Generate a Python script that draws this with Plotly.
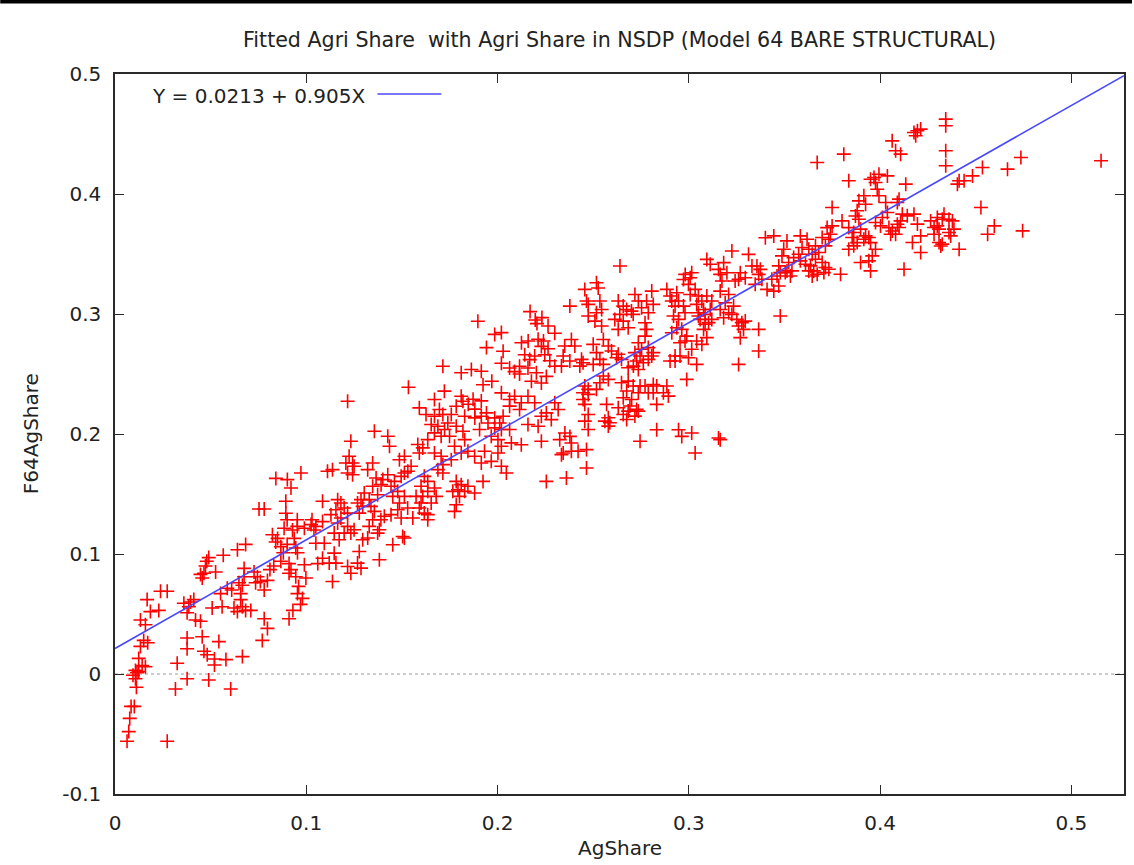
import plotly.graph_objects as go

obs_low = [
    (.0063,-.056),(.0072,-.048),(.0077,-.037),(.0084,-.027),(.0101,-.027),(.0273,-.056),(.0112,-.011),
    (.0107,-.004),(.0094,-.001),(.0115,.001),(.0107,.003),(.0124,.002),(.0142,.007),(.0124,.013),
    (.0159,.006),(.0133,.023),(.0171,.026),(.0150,.028),(.0133,.045),(.0159,.041),(.0168,.062),
    (.0185,.052),(.0229,.053),(.0238,.069),(.0273,.069),(.0325,.009),(.0316,-.0125),(.0377,.030),
    (.0377,.021),(.0377,-.004),(.036,.059),(.0395,.060),(.0412,.062),(.0386,.056),(.0377,.051),
    (.0421,.045),(.0447,.044),(.0456,.031),(.0465,.019),(.0482,.016),(.052,.0125),(.052,.0075),
    (.058,.012),(.049,-.005),(.0605,-.0125),(.0543,.027),(.0666,.0145),(.0447,.083),(.0465,.084),
    (.0456,.080),(.048,.094),(.049,.097),(.0473,.090),(.0526,.085),(.0566,.099),(.0508,.055),
    (.056,.056),(.0552,.067),(.0587,.0715),(.061,.070),(.0622,.055),(.064,.052),(.0666,.056),
    (.0683,.053),(.071,.053),(.0657,.062),(.0657,.067),(.0666,.074),(.0648,.076),(.0675,.081),
    (.0675,.088),(.064,.1035),(.0683,.108),(.0727,.085),(.0745,.081),(.076,.077),(.078,.070),
    (.0735,.076),(.0797,.078),(.081,.087),(.083,.090),(.0867,.094),(.088,.101),(.0867,.106),
    (.090,.108),(.084,.110),(.078,.046),(.0797,.038),(.077,.028),(.091,.046),(.093,.053),
    (.097,.058),(.098,.063),(.0954,.067),(.096,.073),(.0998,.080),(.0945,.081),(.091,.084),
    (.092,.087),(.091,.092),(.0954,.101),(.0945,.105),(.099,.091),(.106,.092),(.1085,.0965),
    (.105,.109),(.1094,.109),
    (.0841,.163),(.0901,.162),(.092,.155),(.0972,.1675),(.0753,.1375),(.078,.1375),(.0893,.144),
    (.0893,.134),(.090,.1285),(.0953,.1285),(.0884,.1215),(.0928,.120),(.0953,.123),(.099,.1215),
    (.1025,.1245),(.105,.123),(.104,.120),(.1085,.144),(.103,.1285),(.1085,.127),(.0823,.116),
    (.085,.113),(.0937,.113),
]

obs_mid = [
    (.1897,.294),(.1985,.283),(.202,.2845),(.1942,.272),(.2029,.269),(.202,.259),
    (.217,.302),(.2197,.295),(.2232,.297),(.2206,.292),(.2264,.290),(.2299,.284),
    (.2125,.276),(.216,.2775),(.2212,.279),(.224,.2775),(.2264,.271),(.2229,.273),
    (.2142,.266),(.2168,.262),(.2194,.265),(.2247,.266),(.2273,.261),(.2299,.2565),
    (.2063,.255),(.2089,.252),(.2115,.2565),(.2159,.255),(.2203,.251),(.2255,.248),(.2229,.2425),
    (.2177,.244),(.2115,.250),(.181,.251),(.1863,.2537),(.1915,.2523),(.197,.244),(.1924,.241),
    (.1714,.2565),(.1534,.239),(.1216,.2273),(.1591,.2218),(.1626,.2162),(.167,.2287),(.1696,.2204),
    (.1722,.2357),(.167,.2148),(.1714,.2162),(.1758,.2162),(.1784,.2231),(.181,.2315),(.1819,.2273),
    (.1653,.2079),(.1688,.2065),(.1723,.2037),(.174,.2092),(.167,.2009),(.1705,.1981),(.1749,.1981),
    (.1784,.2065),(.1847,.2248),(.1872,.229),(.1881,.2207),(.1915,.2276),(.1942,.2176),(.1915,.2148),
    (.1881,.2134),(.1828,.2148),(.202,.2343),(.2063,.2287),(.2089,.2315),(.2124,.226),(.2115,.2204),
    (.2063,.2232),(.2029,.2148),(.1985,.2134),(.2011,.2092),(.2159,.2315),(.2194,.226),(.2229,.2148),
    (.2255,.2176),(.2281,.212),(.2299,.226),(.2317,.2204),(.1906,.2037),(.195,.2092),(.1985,.2051),
    (.202,.2037),(.1967,.1981),(.2002,.1953),(.2063,.2037),(.2159,.2079),(.2212,.2065),(.2229,.194),
    (.2124,.191),(.2072,.1926),(.202,.1898),(.2002,.1842),(.1819,.2023),(.1828,.1953),(.1775,.1898),
    (.181,.1842),(.1845,.1856),(.188,.1814),(.1932,.1856),(.1583,.1912),(.1609,.1884),(.1635,.1953),
    (.167,.1842),(.1705,.1814),(.1591,.1842),(.1714,.1745),(.1688,.1703),(.1758,.1786),(.1714,.1675),
    (.1915,.1758),(.1967,.1772),(.202,.1731),(.1924,.1605),(.2046,.1675),(.2255,.1605),
    (.1784,.1605),(.181,.1578),(.1793,.1536),(.1828,.1522),(.1766,.1522),(.1845,.1564),(.188,.1508),
    (.1801,.148),(.1784,.1411),(.1775,.1355),(.1617,.1647),(.1635,.1605),(.16,.1564),(.1635,.1522),
    (.1609,.148),(.1679,.148),(.1653,.1425),(.167,.155),(.1574,.148),(.16,.1425),(.1591,.1383),
    (.1635,.1328),(.1513,.1675),(.1496,.1647),(.1531,.1689),(.1461,.1605),(.1487,.1786),(.1513,.1814),
    (.1548,.1731),(.1426,.1661),(.14,.162),(.1443,.1564),(.1478,.1522),(.1452,.148),(.1487,.1425),
    (.1513,.148),(.1478,.1369),(.153,.1383),(.1557,.13),(.1496,.13),(.1443,.1328),(.1347,.1758),
    (.1321,.1703),(.1365,.1633),(.1391,.1578),(.1347,.1564),(.1303,.1508),(.1286,.1453),(.1329,.1453),
    (.1373,.1494),(.1224,.1814),(.1242,.1758),(.1207,.1758),(.1216,.1675),(.1242,.1661),(.125,.1731),
    (.1233,.1939),(.1356,.2023),(.1426,.1981),(.1435,.1898),(.1111,.1689),(.1137,.1703),
    (.1164,.1453),(.1181,.1425),(.1198,.1383),(.1155,.1369),(.1129,.1328),(.1216,.1341),(.1181,.13),
    (.1164,.1258),(.1216,.123),(.1233,.1174),(.1198,.1174),(.1146,.1174),(.1172,.1119),(.125,.1202),
    (.1268,.1425),(.1295,.1397),(.1277,.1341),(.1338,.1397),(.1356,.1355),(.1347,.1286),(.1329,.123),
    (.139,.1286),(.1408,.1314),(.1382,.1202),(.1321,.1133),(.1295,.1119),(.1373,.1174),(.1452,.1077),
    (.1504,.1146),(.1513,.1133),(.1617,.1341),(.1635,.1286),(.1277,.1021),(.1268,.0924),(.1286,.0882),
    (.1233,.084),(.1216,.0896),(.1382,.0952),(.1146,.1007),(.112,.0924),(.1155,.0924),(.1137,.0771),
]

obs_upper = [
    (.264,.34),(.2456,.3205),(.2517,.326),(.2526,.3217),(.2378,.3066),
    (.2465,.3108),(.2474,.308),(.2535,.3108),(.2544,.3038),(.2517,.301),(.2474,.2983),(.2509,.2941),
    (.2544,.29),(.2631,.3108),(.2657,.3066),(.2675,.3038),(.27,.3024),(.2709,.2997),(.2639,.2997),
    (.2613,.2955),(.2657,.2941),(.2683,.2886),(.2631,.2872),(.2718,.3163),(.2736,.3108),(.2753,.3052),
    (.2779,.3108),(.2806,.3191),(.2814,.308),(.2788,.301),(.2771,.2927),(.2779,.2872),(.2771,.2816),
    (.2736,.2761),(.2753,.2706),(.2788,.272),(.2814,.2678),(.2718,.2678),(.2745,.265),(.2727,.2608),
    (.2762,.2594),(.271,.2566),(.2683,.2552),(.2736,.2538),(.2788,.2622),(.2806,.265),(.2596,.2692),
    (.2631,.2664),(.2648,.2622),(.2622,.2636),(.2579,.2733),(.2553,.2788),(.2885,.3205),(.2902,.315),
    (.2911,.3108),(.2937,.3177),(.2946,.3108),(.2972,.3066),(.298,.301),(.2928,.3066),(.292,.2983),
    (.2946,.2955),(.2937,.2886),(.2911,.2844),(.2963,.2872),(.298,.2775),(.2954,.2761),(.2989,.2816),
    (.2928,.265),(.2954,.265),(.2902,.2608),(.2928,.2608),(.2981,.333),(.2972,.3288),(.3007,.3302),
    (.3015,.3344),(.2998,.3247),(.3033,.3205),(.3007,.3163),(.305,.315),(.3068,.3108),(.3041,.308),
    (.3077,.3038),(.305,.301),(.3085,.2997),(.3112,.3038),(.312,.3108),(.3094,.315),(.3094,.3455),
    (.3112,.3414),(.3155,.3372),(.3182,.3428),(.3164,.333),(.3199,.3344),(.3173,.3275),(.3225,.3525),
    (.3242,.3275),(.3269,.3344),(.326,.3289),(.3295,.3302),(.3312,.3497),(.333,.34),(.3356,.34),
    (.3374,.3372),(.3382,.3289),(.3365,.333),(.3347,.3247),(.34,.3636),(.3409,.3205),(.3164,.3191),
    (.3208,.3163),(.319,.3094),(.3234,.3066),(.3164,.3038),(.3182,.2969),(.3208,.301),(.312,.2955),
    (.305,.2983),(.3059,.2955),(.3085,.2914),(.3103,.2928),(.3077,.2872),(.3094,.2803),(.3068,.2747),
    (.3041,.2775),(.3015,.2706),(.2998,.2636),(.3225,.2997),(.3251,.2955),(.3277,.2928),(.326,.29),
    (.3286,.2872),(.3269,.2803),(.3295,.2941),(.3365,.2872),(.3365,.2692),(.326,.258),(.3041,.258),
    (.2989,.2455),(.2386,.2788),(.2404,.2733),(.2351,.2733),(.2343,.265),(.2378,.2608),(.2334,.2566),
    (.2447,.2594),(.243,.2566),(.2439,.2622),(.25,.2747),(.2517,.2678),(.2535,.2622),(.2553,.258),
    (.25,.258),(.2553,.2483),(.2579,.2455),(.2535,.2427),(.2517,.2372),(.2456,.24),(.2474,.2372),
    (.2447,.2344),(.2474,.233),(.2447,.2288),(.2456,.2247),(.2648,.2427),(.2683,.2441),(.2709,.24),
    (.2675,.2358),(.2657,.2302),(.2701,.2288),(.2736,.2344),(.2745,.24),(.2771,.24),(.2814,.2413),
    (.2832,.24),(.2814,.2344),(.2788,.2344),(.2867,.2344),(.2885,.24),(.2893,.2316),(.2692,.2233),
    (.2727,.2205),(.2683,.2191),(.2631,.2219),(.2657,.2163),(.2718,.2149),(.2832,.2247),(.257,.2247),
    (.2579,.2135),(.2561,.2107),(.2587,.2094),(.2675,.2121),(.2736,.2191),(.2579,.2066),(.2745,.1939),
    (.2832,.2036),(.2946,.2036),(.3015,.2008),(.2963,.198),(.3033,.1842),(.3164,.1953),(.3155,.1967),
    (.2474,.2163),(.2456,.2107),(.2474,.2038),(.2465,.187),(.2465,.1717),(.2421,.1856),(.2386,.1856),
    (.2343,.1842),(.2334,.1828),(.2386,.1925),(.2378,.198),(.2325,.1953),(.2352,.2008),(.236,.1633),
]

obs_high = [
    (.3671,.4262),(.381,.4332),(.4063,.4443),(.4081,.436),(.3836,.411),(.395,.4123),(.3968,.4137),
    (.3976,.4096),(.3994,.4165),(.4038,.4151),(.3985,.404),(.3994,.3985),(.3915,.3985),(.3924,.3915),
    (.3889,.3943),(.388,.386),(.3871,.3817),(.3889,.379),(.3749,.3887),(.4029,.3929),(.4038,.3846),
    (.4012,.3804),(.409,.3929),(.3976,.3762),(.4002,.3734),(.4046,.372),(.4064,.3692),(.4081,.3665),
    (.4055,.3665),(.409,.3748),(.3801,.3776),(.3836,.372),(.3862,.3679),(.3854,.3637),(.3898,.3707),
    (.3924,.3651),(.3941,.3637),(.3915,.3623),(.395,.3595),(.3976,.354),(.3959,.3484),(.3941,.3443),
    (.3898,.3429),(.3836,.354),(.3862,.3568),(.388,.3595),(.3723,.372),(.3749,.3734),(.374,.3665),
    (.3697,.3637),(.3732,.3623),(.3714,.3568),(.3679,.3512),(.3662,.3568),(.3697,.3429),(.3793,.3331),
    (.395,.3359),(.3583,.3651),(.3618,.3623),(.3592,.3554),(.3627,.354),(.3645,.3498),(.3662,.3456),
    (.3636,.3401),(.3653,.3359),(.3671,.3331),(.3627,.3359),(.361,.3415),(.3583,.3443),(.3574,.3498),
    (.3548,.347),(.3522,.3429),(.3513,.3609),(.3496,.354),(.3487,.3484),(.3513,.3359),(.3539,.3359),
    (.347,.3401),(.3444,.3651),(.3714,.3387),(.3732,.3373),(.3706,.3345),(.3478,.2983),(.3434,.3289),
    (.3461,.3317),(.3478,.3345),(.3504,.3345),(.3444,.3191),(.347,.3233),(.3531,.3317),(.3645,.3317),
    (.4343,.4624),(.4343,.4569),(.4177,.4513),(.4195,.4527),(.4212,.4541),(.4186,.4485),(.4107,.4332),
    (.4343,.436),(.4343,.4235),(.4134,.4082),(.4099,.3957),(.4413,.411),(.4404,.4082),(.4439,.411),
    (.4483,.4151),(.4535,.4221),(.4666,.4207),(.4736,.4304),(.5155,.4277),(.4527,.3887),(.4597,.3734),
    (.4562,.3665),(.4745,.3693),(.4334,.3832),(.4325,.379),(.436,.379),(.4378,.3776),(.4386,.3707),
    (.4299,.3804),(.4264,.3776),(.4282,.3721),(.4299,.3734),(.4308,.3707),(.4282,.3665),(.436,.3679),
    (.4369,.3651),(.4308,.3596),(.4317,.3567),(.4325,.3582),(.4413,.354),(.4212,.3651),(.4195,.3749),
    (.4212,.3512),(.4169,.3596),(.4125,.3373),(.4142,.3818),(.4116,.3832),(.4107,.3776),(.4099,.3721),
    (.4177,.3832),
]

fit_intercept = 0.0213
fit_slope = 0.905
x_ticks = [0, 0.1, 0.2, 0.3, 0.4, 0.5]
x_tick_labels = ["0", "0.1", "0.2", "0.3", "0.4", "0.5"]
y_ticks = [-0.1, 0, 0.1, 0.2, 0.3, 0.4, 0.5]
y_tick_labels = ["-0.1", "0", "0.1", "0.2", "0.3", "0.4", "0.5"]
x_range = [0, 0.5275]
y_range = [-0.1, 0.5]

all_obs = obs_low + obs_mid + obs_upper + obs_high
ag_share = [p[0] for p in all_obs]
f64_ag_share = [p[1] for p in all_obs]

FONT = "DejaVu Sans"
FS = 20
TXT = "#222222"
AX = "#2a2a2a"

fig = go.Figure()
fig.add_trace(go.Scatter(
    x=ag_share, y=f64_ag_share, mode="markers",
    marker=dict(symbol="cross-thin", size=10, color="#ff0000",
                line=dict(width=1.6, color="#ff0000")),
    showlegend=False, hoverinfo="skip"))

fit_x = [x_range[0], x_range[1]]
fit_y = [fit_intercept + fit_slope * v for v in fit_x]
fig.add_trace(go.Scatter(
    x=fit_x, y=fit_y, mode="lines",
    line=dict(color="#4848ff", width=1.6), showlegend=False, hoverinfo="skip"))

L, R, T, B = 115, 8, 74, 71
W, H = 1134, 865
pw, ph = W - L - R, H - T - B

def px_x(p):
    return (p - L) / pw

def px_y(p):
    return (H - B - p) / ph

axis_common = dict(showline=True, linecolor=AX, linewidth=1.5, mirror="ticks",
                   ticks="inside", ticklen=9, tickwidth=1.3, tickcolor=AX,
                   showgrid=False, zeroline=False,
                   tickfont=dict(family=FONT, size=FS, color=TXT))

fig.update_layout(
    width=W, height=H,
    margin=dict(l=L, r=R, t=T, b=B),
    paper_bgcolor="white", plot_bgcolor="white",
    font=dict(family=FONT, size=FS, color=TXT),
    title=dict(text="Fitted Agri Share \u00a0with Agri Share in NSDP (Model 64 BARE STRUCTURAL)",
               x=0.5, xref="paper", xanchor="center",
               y=1 - 40 / H, yref="container", yanchor="middle",
               font=dict(family=FONT, size=20.6, color=TXT)),
    xaxis=dict(range=x_range, tickvals=x_ticks, ticktext=x_tick_labels,
               ticklabelstandoff=10, **axis_common),
    yaxis=dict(range=y_range, tickvals=y_ticks, ticktext=y_tick_labels,
               ticklabelstandoff=8, **axis_common),
    showlegend=False,
)

# dotted zero line
fig.add_shape(type="line", xref="paper", x0=0, x1=1, yref="y", y0=0, y1=0,
              line=dict(color="#9a9a9a", width=1, dash="dot"), layer="below")
# legend (gnuplot style: text then sample)
fig.add_annotation(text="Y = 0.0213 + 0.905X", xref="paper", yref="paper",
                   x=px_x(367), y=px_y(96), xanchor="right", yanchor="middle",
                   showarrow=False, font=dict(family=FONT, size=FS, color=TXT))
fig.add_shape(type="line", xref="paper", yref="paper",
              x0=px_x(378), x1=px_x(442), y0=px_y(94), y1=px_y(94),
              line=dict(color="#4848ff", width=1.6))
# axis titles
fig.add_annotation(text="F64AgShare", xref="paper", yref="paper",
                   x=px_x(31), y=0.5, textangle=-90, xanchor="center", yanchor="middle",
                   showarrow=False, font=dict(family=FONT, size=FS, color=TXT))
fig.add_annotation(text="AgShare", xref="paper", yref="paper",
                   x=0.5, y=px_y(848), xanchor="center", yanchor="middle",
                   showarrow=False, font=dict(family=FONT, size=FS, color=TXT))
# black bar at the very top of the image
fig.add_shape(type="rect", xref="paper", yref="paper",
              x0=px_x(0), x1=px_x(W), y0=px_y(3.5), y1=px_y(0),
              line=dict(width=0), fillcolor="#000000")

fig.write_html("out.html", config={"displayModeBar": False},
               post_script="document.body.style.margin='0';")
